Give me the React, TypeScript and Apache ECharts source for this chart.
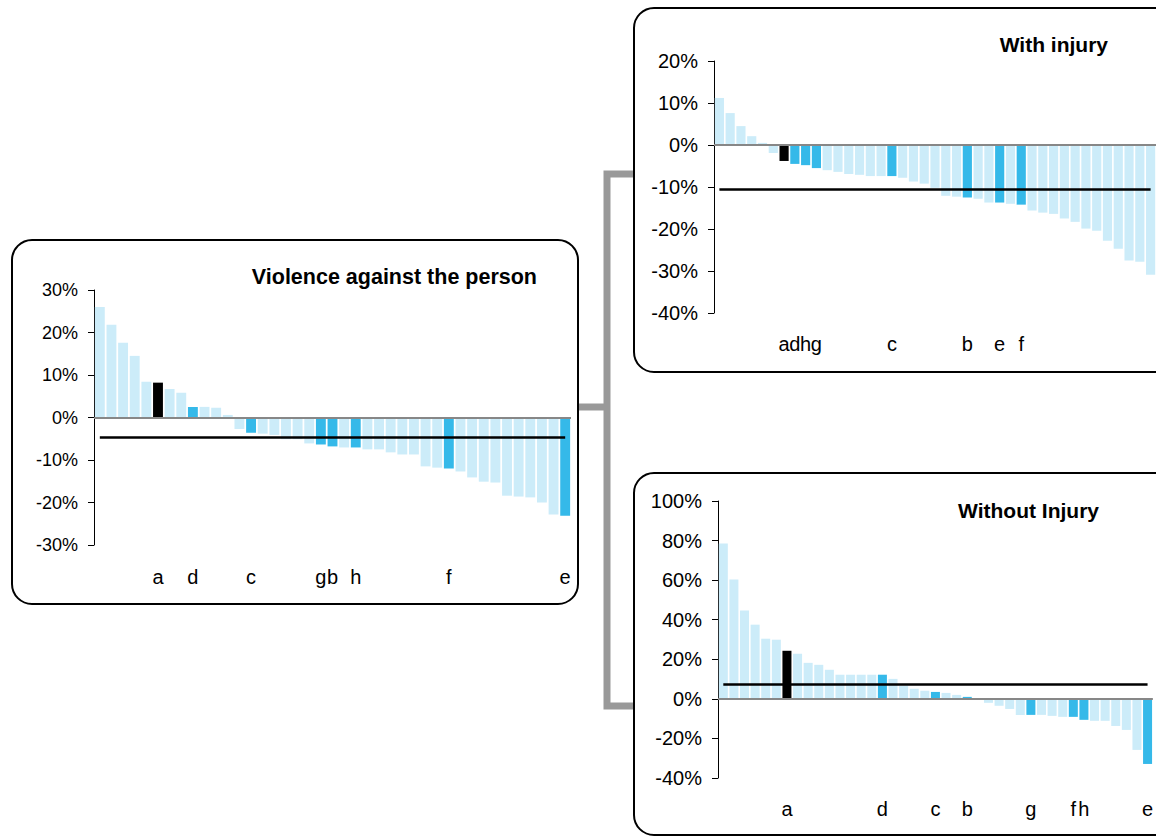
import React, { useEffect, useRef } from 'react';
import * as echarts from 'echarts';

// ---- Data ----
const violenceLabels = ['', '', '', '', '', 'a', '', '', 'd', '', '', '', '', 'c', '', '', '', '', '', 'g', 'b', '', 'h', '', '', '', '', '', '', '', 'f', '', '', '', '', '', '', '', '', '', 'e'];
const violenceValues = [26.0, 21.8, 17.6, 14.5, 8.4, 8.2, 6.7, 5.8, 2.5, 2.5, 2.3, 0.6, -2.7, -3.6, -3.8, -4.1, -5.1, -5.1, -6.1, -6.35, -6.8, -7.05, -7.05, -7.5, -7.5, -8.2, -8.7, -8.7, -11.5, -11.8, -12.0, -12.7, -14.1, -15.1, -15.3, -18.4, -18.6, -18.8, -20.0, -22.8, -23.1];
const violenceAverage = -4.6;
const violenceAxis = [-30, 30, 10];

const injuryLabels = ['', '', '', '', '', '', 'a', 'd', 'h', 'g', '', '', '', '', '', '', 'c', '', '', '', '', '', '', 'b', '', '', 'e', '', 'f', '', '', '', '', '', '', '', '', '', '', '', ''];
const injuryValues = [11.2, 7.6, 4.5, 2.1, 0.5, -1.9, -3.8, -4.5, -4.8, -5.5, -6.0, -6.4, -6.9, -7.1, -7.4, -7.4, -7.4, -7.8, -8.7, -9.2, -10.2, -12.1, -12.3, -12.5, -12.8, -13.7, -13.7, -14.0, -14.2, -15.6, -16.1, -16.4, -17.5, -18.3, -19.9, -20.4, -22.8, -24.7, -27.5, -27.8, -30.9];
const injuryAverage = -10.6;
const injuryAxis = [-40, 20, 10];

const noInjuryLabels = ['', '', '', '', '', '', 'a', '', '', '', '', '', '', '', '', 'd', '', '', '', '', 'c', '', '', 'b', '', '', '', '', '', 'g', '', '', '', 'f', 'h', '', '', '', '', '', 'e'];
const noInjuryValues = [78.5, 60.3, 44.6, 37.5, 30.4, 29.9, 24.3, 22.8, 18.2, 17.2, 14.7, 12.2, 12.2, 12.2, 12.2, 12.2, 10.1, 6.6, 5.1, 4.1, 3.5, 3.0, 2.0, 1.0, 0.3, -2.0, -3.5, -5.1, -8.1, -8.1, -8.1, -8.6, -9.1, -9.1, -10.6, -11.1, -11.1, -13.7, -15.7, -25.8, -32.9];
const noInjuryAverage = 7.3;
const noInjuryAxis = [-40, 100, 20];

const titles = ['Violence against the person', 'With injury', 'Without Injury'];

const FONT = '"Liberation Sans", Arial, sans-serif';
const LIGHT = '#CCECF9';
const BLUE = '#35B9E9';

function barColor(label: string) {
  if (label === 'a') return '#000000';
  if (label) return BLUE;
  return LIGHT;
}

export default function App() {
  const ref = useRef<HTMLDivElement>(null);

  useEffect(() => {
    if (!ref.current) return;
    const chart = echarts.init(ref.current, undefined, { renderer: 'svg' });

    const panels = [
      { labels: violenceLabels, values: violenceValues, avg: violenceAverage, axis: violenceAxis, grid: { left: 94, top: 290, width: 477, height: 255 }, yFont: 18, xMargin: 22 },
      { labels: injuryLabels, values: injuryValues, avg: injuryAverage, axis: injuryAxis, grid: { left: 714, top: 61, width: 450, height: 252 }, yFont: 20, xMargin: 21 },
      { labels: noInjuryLabels, values: noInjuryValues, avg: noInjuryAverage, axis: noInjuryAxis, grid: { left: 718, top: 501, width: 445, height: 277 }, yFont: 20, xMargin: 21 },
    ];

    const titleStyle = (text: string, size: number) => ({
      text,
      fontSize: size,
      fontWeight: 'bold',
      fontFamily: FONT,
      fill: '#000',
      align: 'right',
      verticalAlign: 'middle',
      textAlign: 'right',
      textVerticalAlign: 'middle',
    });

    const option: any = {
      animation: false,
      grid: panels.map((p) => ({ ...p.grid, containLabel: false })),
      xAxis: panels.map((p, i) => ({
        type: 'category',
        gridIndex: i,
        data: p.labels,
        axisLine: { show: false, onZero: false },
        axisTick: { show: false },
        splitLine: { show: false },
        axisLabel: { interval: 0, fontSize: 20, color: '#000', fontFamily: FONT, margin: p.xMargin },
      })),
      yAxis: panels.map((p, i) => ({
        type: 'value',
        gridIndex: i,
        min: p.axis[0],
        max: p.axis[1],
        interval: p.axis[2],
        axisLine: { show: true, lineStyle: { color: '#000', width: 1 } },
        axisTick: { show: true, length: 6, lineStyle: { color: '#000', width: 1 } },
        splitLine: { show: false },
        axisLabel: { formatter: '{value}%', fontSize: p.yFont, color: '#000', fontFamily: FONT, margin: 16 },
      })),
      series: panels.map((p, i) => ({
        type: 'bar',
        xAxisIndex: i,
        yAxisIndex: i,
        barCategoryGap: '15%',
        data: p.values.map((v, k) => ({ value: v, itemStyle: { color: barColor(p.labels[k]) } })),
        markLine: {
          silent: true,
          symbol: ['none', 'none'],
          label: { show: false },
          emphasis: { disabled: true },
          data: [
            { yAxis: 0, lineStyle: { color: '#878787', width: 2, type: 'solid' } },
            [
              { coord: [0, p.avg], lineStyle: { color: '#000', width: 2.6, type: 'solid' } },
              { coord: [p.values.length - 1, p.avg], lineStyle: { color: '#000', width: 2.6, type: 'solid' } },
            ],
          ],
        },
      })),
      graphic: [
        { type: 'rect', z: 0, shape: { x: 12, y: 240, width: 566, height: 364, r: 20 }, style: { fill: 'none', stroke: '#000', lineWidth: 2 } },
        { type: 'rect', z: 0, shape: { x: 634, y: 8, width: 620, height: 364, r: 20 }, style: { fill: 'none', stroke: '#000', lineWidth: 2 } },
        { type: 'rect', z: 0, shape: { x: 634, y: 473, width: 620, height: 362, r: 20 }, style: { fill: 'none', stroke: '#000', lineWidth: 2 } },
        { type: 'polyline', z: 0, shape: { points: [[579, 407], [607, 407]] }, style: { stroke: '#999', lineWidth: 7, fill: 'none' } },
        { type: 'polyline', z: 0, shape: { points: [[633, 174], [607, 174], [607, 706], [633, 706]] }, style: { stroke: '#999', lineWidth: 7, fill: 'none', lineJoin: 'miter' } },
        { type: 'text', x: 537, y: 277, style: titleStyle(titles[0], 21.5) },
        { type: 'text', x: 1108, y: 44, style: titleStyle(titles[1], 21) },
        { type: 'text', x: 1099, y: 510, style: titleStyle(titles[2], 21) },
      ],
    };

    chart.setOption(option);
    return () => chart.dispose();
  }, []);

  return (
    <div
      ref={ref}
      style={{ position: 'fixed', left: 0, top: 0, width: 1156, height: 836, background: '#fff' }}
    />
  );
}
